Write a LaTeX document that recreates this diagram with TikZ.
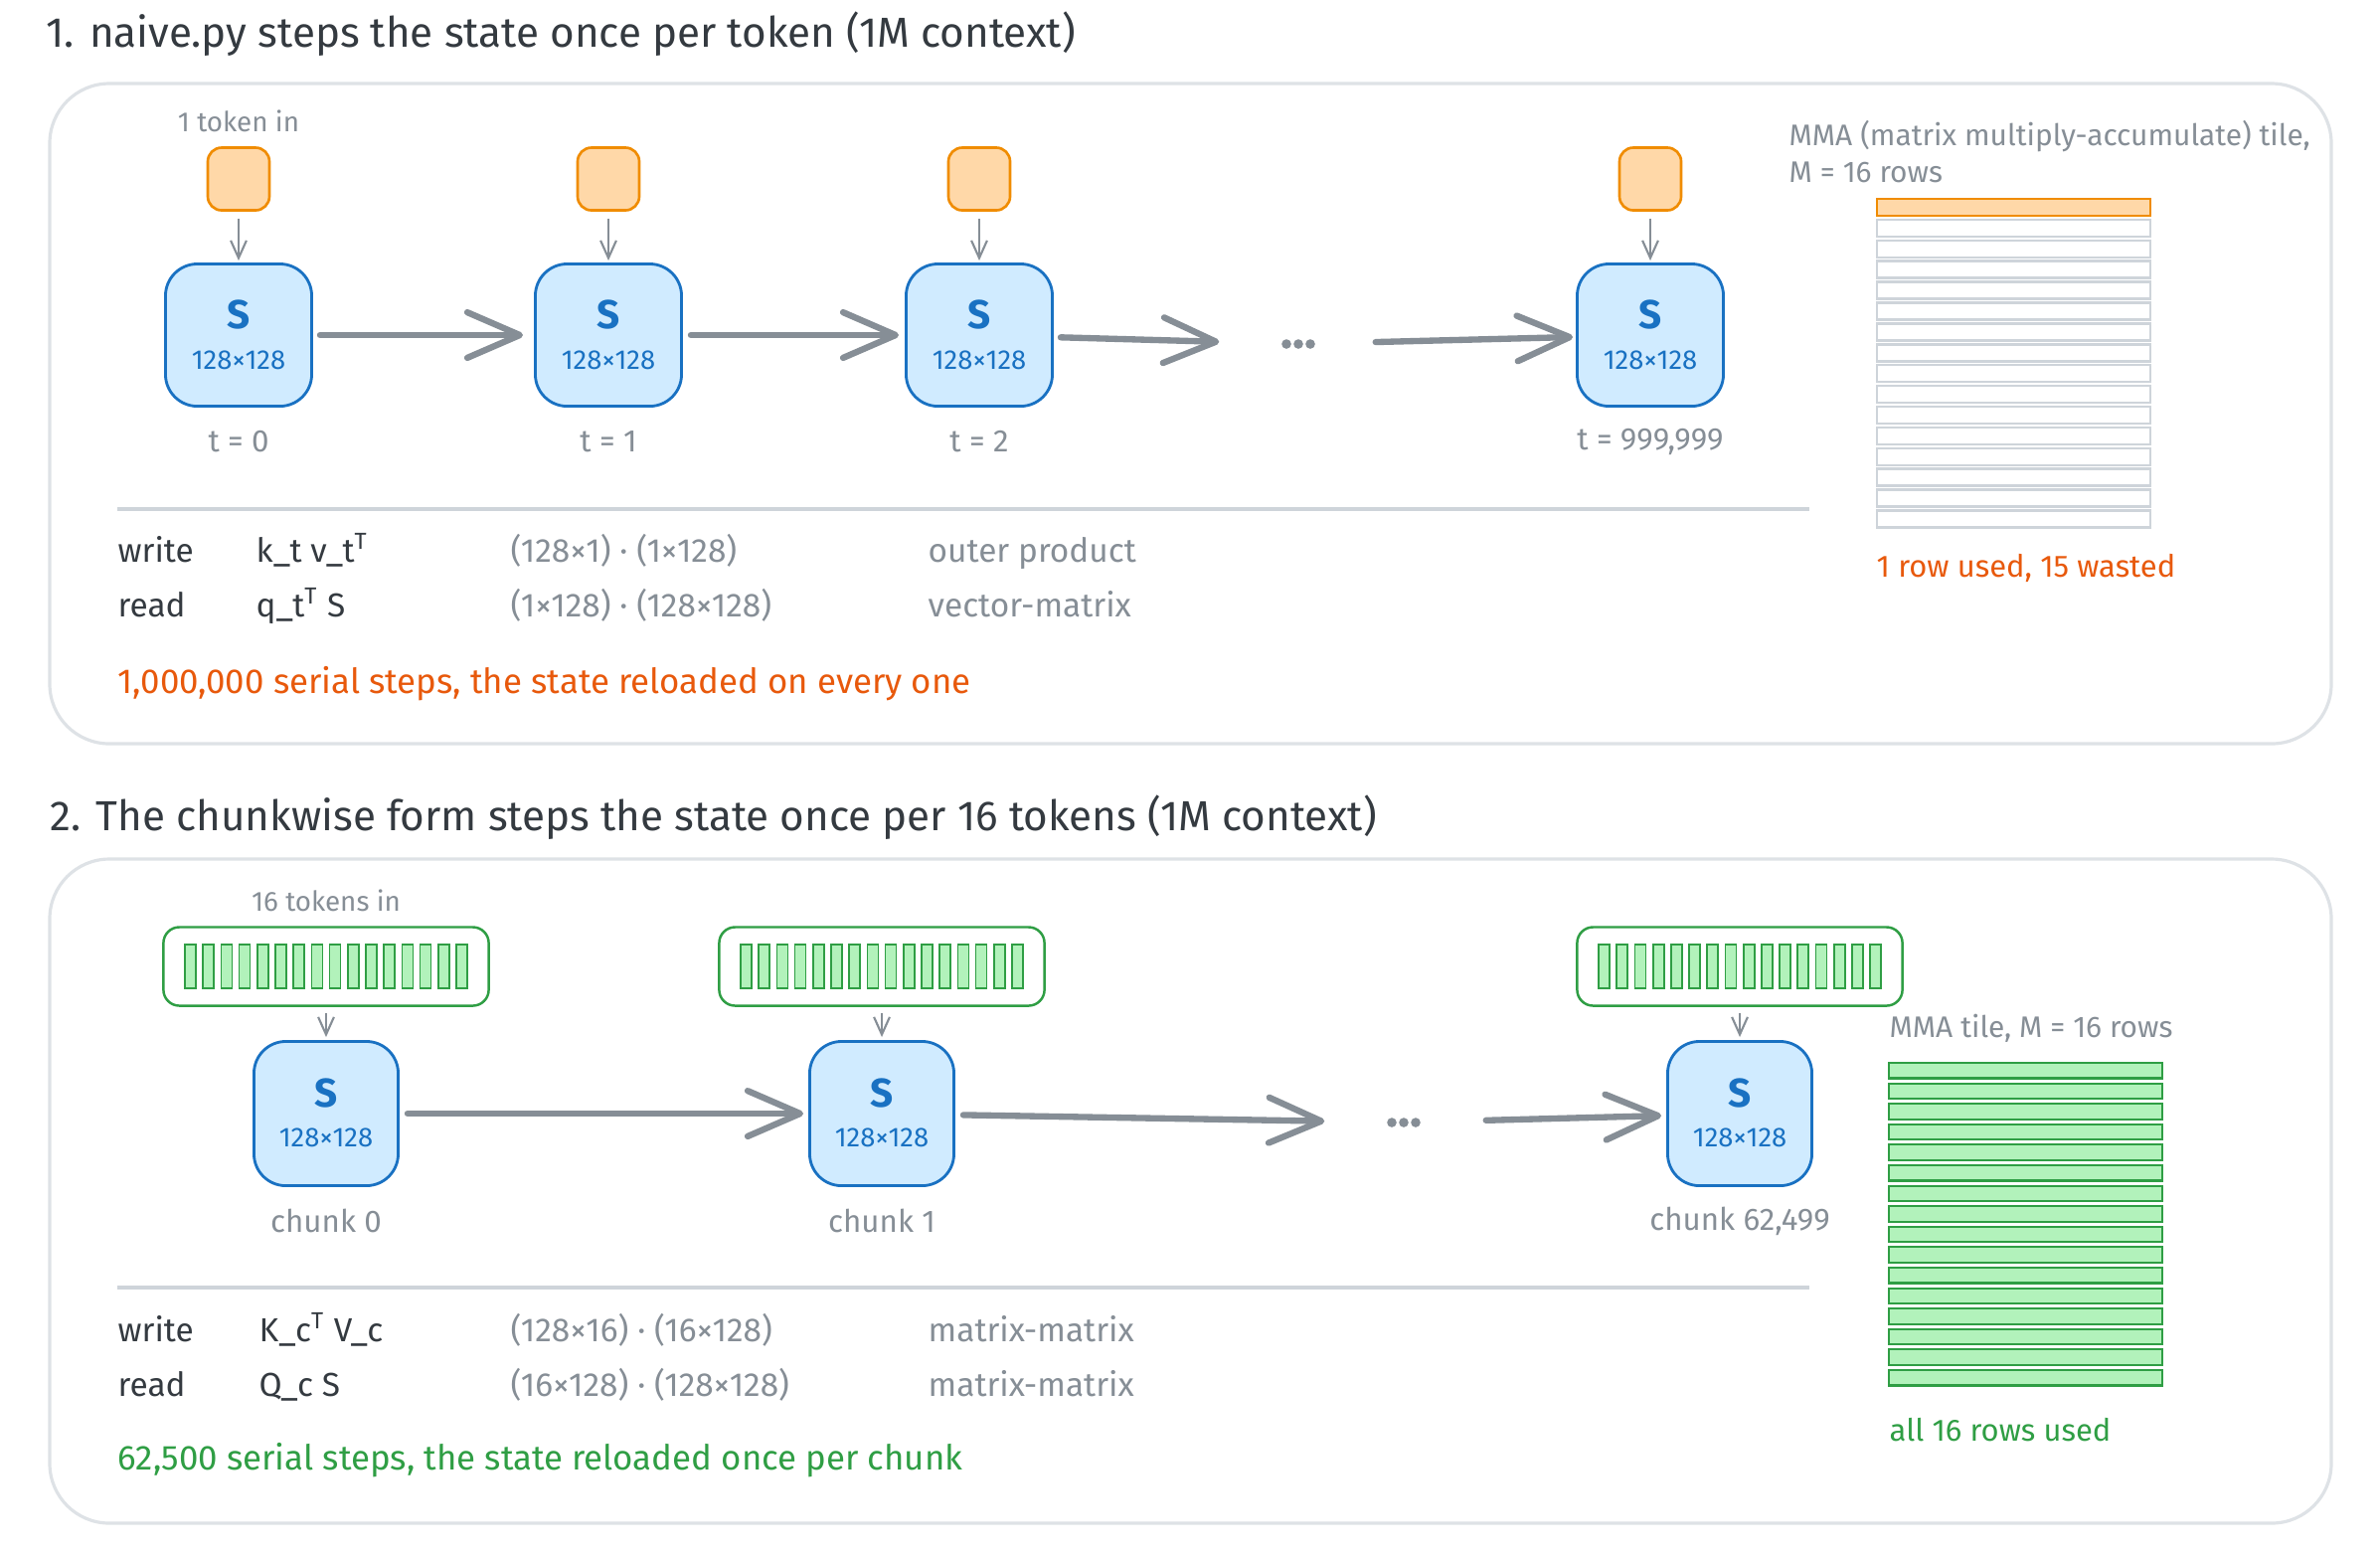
\documentclass[tikz,border=0pt]{standalone}
\usepackage{fontspec}
\usepackage{graphicx}
\setmainfont{Fira Sans}
\usetikzlibrary{arrows.meta,calc}
\newcommand{\myfs}[1]{\fontsize{#1pt}{#1pt}\selectfont}
\definecolor{blueS}{HTML}{1971C2}
\definecolor{blueF}{HTML}{D0EBFF}
\definecolor{orS}{HTML}{F08C00}
\definecolor{orF}{HTML}{FFD8A8}
\definecolor{orT}{HTML}{E8590C}
\definecolor{grS}{HTML}{2F9E44}
\definecolor{grF}{HTML}{B2F2BB}
\definecolor{grayT}{HTML}{868E96}
\definecolor{darkT}{HTML}{343A40}
\definecolor{panelS}{HTML}{DEE2E6}
\definecolor{sepS}{HTML}{CED4DA}
\definecolor{arrowG}{HTML}{868E96}
\tikzset{
  panel/.style={draw=panelS, line width=0.9pt, rounded corners=0.6cm},
  sepline/.style={draw=sepS, line width=1.1pt},
  tok/.style={draw=orS, fill=orF, line width=0.75pt, rounded corners=0.14cm, minimum width=0.62cm, minimum height=0.63cm, inner sep=0},
  sbox/.style={draw=blueS, fill=blueF, line width=0.8pt, rounded corners=0.32cm, minimum width=1.47cm, minimum height=1.43cm, inner sep=0},
  sboxb/.style={sbox, minimum width=1.45cm, minimum height=1.45cm},
  chunkbox/.style={draw=grS, fill=white, line width=0.7pt, rounded corners=0.16cm, minimum width=3.27cm, minimum height=0.79cm, inner sep=0},
  bar/.style={draw=grS, fill=grF, line width=0.5pt},
  emptyrow/.style={draw=sepS, fill=white, line width=0.7pt},
  usedrow/.style={draw=orS, fill=orF, line width=0.75pt},
  greenrow/.style={draw=grS, fill=grF, line width=0.6pt},
  bigarrow/.style={draw=arrowG, line width=1.8pt, line cap=round, -{Straight Barb[length=15pt,width=13pt,line cap=round,line join=round]}},
  smallarrow/.style={draw=arrowG, line width=0.6pt, -{Straight Barb[length=5pt,width=4.5pt]}},
  dotsnode/.style={minimum width=0.34cm, minimum height=0.1cm, inner sep=0},
  ttl/.style={text=darkT, font={\myfs{12}}, anchor=west, inner sep=0},
  lbl/.style={text=grayT, font={\myfs{8.9}}, inner sep=0},
  inlbl/.style={text=grayT, font={\myfs{7.9}}, inner sep=0},
  slab/.style={text=blueS, font={\myfs{11.5}\bfseries}, inner sep=0},
  dlab/.style={text=blueS, font={\myfs{7.8}}, inner sep=0},
  tab/.style={text=darkT, font={\myfs{9.5}}, anchor=west, inner sep=0, text height=0.72em, text depth=0.22em},
  tabg/.style={tab, text=grayT},
  sumtxt/.style={tab, font={\myfs{9.9}}},
  note/.style={text=grayT, font={\myfs{8.5}}, anchor=west, inner sep=0},
  res/.style={font={\myfs{8.8}}, anchor=west, inner sep=0}
}
\begin{document}
\begin{tikzpicture}[x=0.01cm,y=-0.01cm]
\useasboundingbox (0,0) rectangle (2394,1562);
\fill[white] (0,0) rectangle (2394,1562);

% ---------------- Section 1 ----------------
\node[ttl] (title1) at (46,34) {1. naive.py steps the state once per token (1M context)};
\draw[panel] (50,84) rectangle (2345,748);

\node[inlbl] (tin1) at (240,122) {1 token in};

\node[tok] (k1) at (240,180) {};
\node[tok] (k2) at (612,180) {};
\node[tok] (k3) at (985,180) {};
\node[tok] (k4) at (1660,180) {};

\node[sbox] (s1) at (240,337) {};
\node[sbox] (s2) at (612,337) {};
\node[sbox] (s3) at (985,337) {};
\node[sbox] (s4) at (1660,337) {};

\foreach \n/\xx in {1/240,2/612,3/985,4/1660}{
  \node[slab] (s\n S) at (\xx,316) {S};
  \node[dlab] (s\n d) at (\xx,362) {128×128};
}
\node[lbl] (t1) at (240,444) {t = 0};
\node[lbl] (t2) at (612,444) {t = 1};
\node[lbl] (t3) at (985,444) {t = 2};
\node[lbl] (t4) at (1660,444) {t = 999,999};

\foreach \n in {1,2,3,4}{
  \draw[smallarrow, shorten <=0.07cm, shorten >=0.02cm] (k\n) -- (s\n);
}

\node[dotsnode] (d1) at (1306,346) {};
\foreach \dx in {-12,0,12}{\fill[arrowG] ($(d1)+(\dx,0)$) circle (0.048cm);}

\draw[bigarrow, shorten <=0.07cm, shorten >=0.11cm] (s1) -- (s2);
\draw[bigarrow, shorten <=0.08cm, shorten >=0.06cm] (s2) -- (s3);
\draw[bigarrow, shorten <=0.07cm, shorten >=0.62cm] (s3) -- (d1);
\draw[bigarrow, shorten <=0.6cm, shorten >=0.03cm] (d1) -- (s4);

\draw[sepline] (118,512) -- (1820,512);

\node[tab] (w1) at (118,557) {write};
\node[tab] (w1f) at (257,557) {k\_t v\_t\textsuperscript{T}};
\node[tabg] (w1d) at (513,557) {(128×1) · (1×128)};
\node[tabg] (w1k) at (933,557) {outer product};
\node[tab] (r1) at (118,612) {read};
\node[tab] (r1f) at (257,612) {q\_t\textsuperscript{T} S};
\node[tabg] (r1d) at (513,612) {(1×128) · (128×128)};
\node[tabg] (r1k) at (933,612) {vector-matrix};
\node[sumtxt, text=orT] (sum1) at (118,689) {1,000,000 serial steps, the state reloaded on every one};

\node[note] (mma1) at (1799,137) {MMA (matrix multiply-accumulate) tile,};
\node[note] (mma1b) at (1799,173) {M = 16 rows};
\foreach \i in {1,...,15}{
  \draw[emptyrow] (1888,{200+20.9*\i}) rectangle ++(275,17);
}
\draw[usedrow] (1888,200) rectangle ++(275,17);
\node[res, text=orT] (used1) at (1887,571) {1 row used, 15 wasted};

% ---------------- Section 2 ----------------
\node[ttl] (title2) at (50,822) {2. The chunkwise form steps the state once per 16 tokens (1M context)};
\draw[panel] (50,864) rectangle (2345,1532);

\node[inlbl] (tin2) at (328,906) {16 tokens in};

\node[chunkbox] (c1) at (328,972) {};
\node[chunkbox] (c2) at (887,972) {};
\node[chunkbox] (c3) at (1750,972) {};
\foreach \c in {c1,c2,c3}{
  \foreach \i in {0,...,15}{
    \draw[bar] ($(\c.center)+({-142+18.2*\i},-22)$) rectangle ++(11,44);
  }
}

\node[sboxb] (u1) at (328,1120) {};
\node[sboxb] (u2) at (887,1120) {};
\node[sboxb] (u3) at (1750,1120) {};
\foreach \n/\xx in {1/328,2/887,3/1750}{
  \node[slab] (u\n S) at (\xx,1099) {S};
  \node[dlab] (u\n d) at (\xx,1144) {128×128};
}
\node[lbl] (ch1) at (328,1228) {chunk 0};
\node[lbl] (ch2) at (887,1228) {chunk 1};
\node[lbl] (ch3) at (1750,1228) {chunk 62,499};

\draw[smallarrow, shorten <=0.06cm, shorten >=0.03cm] (c1) -- (u1);
\draw[smallarrow, shorten <=0.06cm, shorten >=0.03cm] (c2) -- (u2);
\draw[smallarrow, shorten <=0.06cm, shorten >=0.03cm] (c3) -- (u3);

\node[dotsnode] (d2) at (1412,1129) {};
\foreach \dx in {-12,0,12}{\fill[arrowG] ($(d2)+(\dx,0)$) circle (0.048cm);}

\draw[bigarrow, shorten <=0.08cm, shorten >=0.05cm] (u1) -- (u2);
\draw[bigarrow, shorten <=0.08cm, shorten >=0.62cm] (u2) -- (d2);
\draw[bigarrow, shorten <=0.65cm, shorten >=0.05cm] (d2) -- (u3);

\draw[sepline] (118,1295) -- (1820,1295);

\node[tab] (w2) at (118,1341) {write};
\node[tab] (w2f) at (260,1341) {K\_c\textsuperscript{T} V\_c};
\node[tabg] (w2d) at (513,1341) {(128×16) · (16×128)};
\node[tabg] (w2k) at (933,1341) {matrix-matrix};
\node[tab] (r2) at (118,1396) {read};
\node[tab] (r2f) at (260,1396) {Q\_c S};
\node[tabg] (r2d) at (513,1396) {(16×128) · (128×128)};
\node[tabg] (r2k) at (933,1396) {matrix-matrix};
\node[sumtxt, text=grS] (sum2) at (118,1470) {62,500 serial steps, the state reloaded once per chunk};

\node[note] (mma2) at (1900,1034) {MMA tile, M = 16 rows};
\foreach \i in {0,...,15}{
  \draw[greenrow] (1900,{1069+20.6*\i}) rectangle ++(275,15.5);
}
\node[res, text=grS] (used2) at (1900,1438) {all 16 rows used};
\end{tikzpicture}
\end{document}
